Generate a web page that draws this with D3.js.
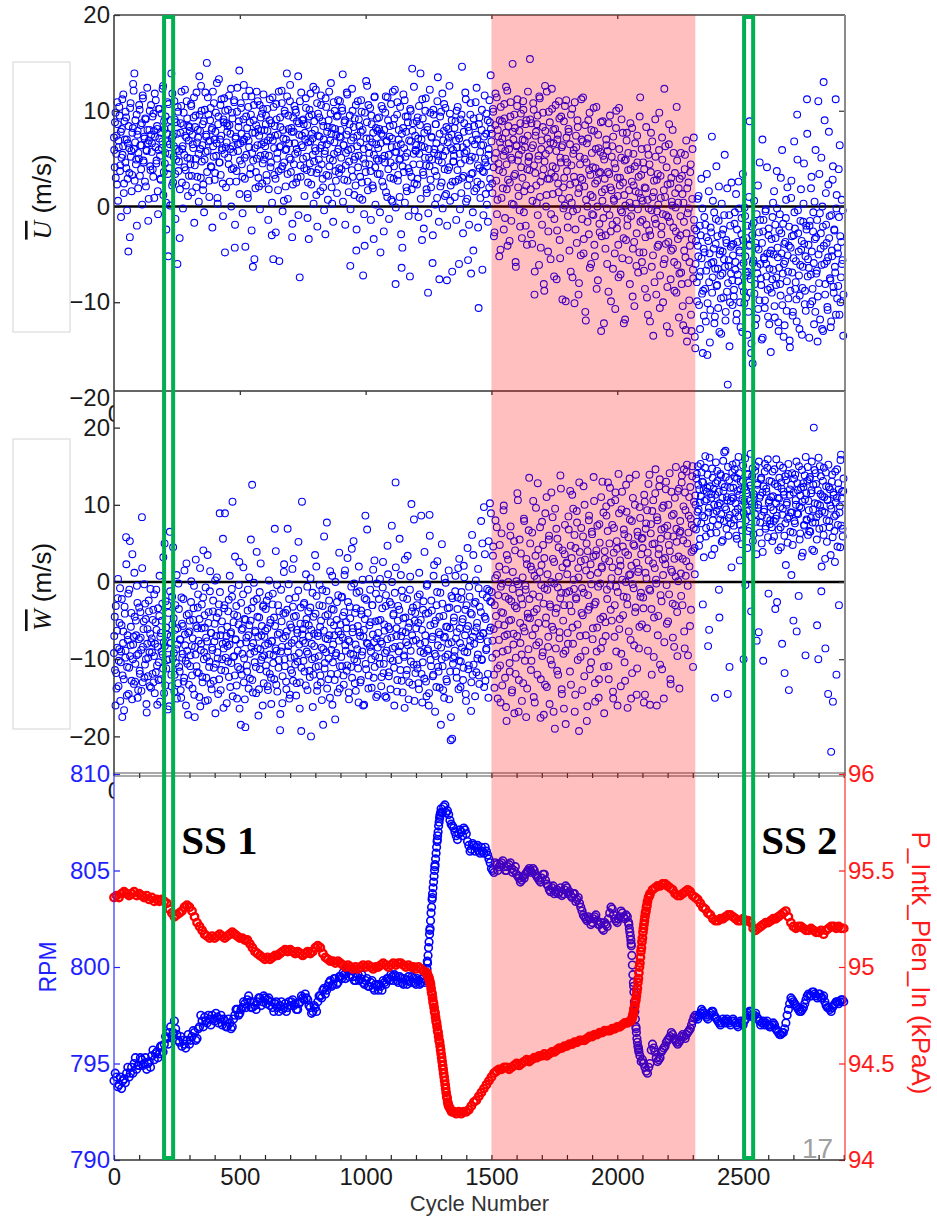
<!DOCTYPE html>
<html>
<head>
<meta charset="utf-8">
<script src="https://cdn.jsdelivr.net/npm/d3@7"></script>
<style>
  body { margin: 0; background: #fff; }
  svg { display: block; font-family: "Liberation Sans", Arial, sans-serif; }
</style>
</head>
<body>
<div id="chart"></div>
<script>
// ---- data ----
const tickCycles = [0, 500, 1000, 1500, 2000, 2500];
const uTicks = [-20, -10, 0, 10, 20];
const wTicks = [-20, -10, 0, 10, 20];
const rpmTicks = [790, 795, 800, 805, 810];
const presTicks = [94, 94.5, 95, 95.5, 96];
const transient = [1500, 2310];
const steadyStates = [
    { label: "SS 1", from: 199, to: 235 },
    { label: "SS 2", from: 2504, to: 2540 }
];

// scatter samples: set A on cycles 0,3,6..., set B on cycles 1,4,7...
const scatterCycles = d3.range(0, 2900, 3);
const scatterCyclesB = d3.range(1, 2900, 3);

const uValues = [
    7.2, 4.1, 9.8, 5.5, 2.3, 8.6, 6.9, 10.4, 3.7, 7.8, 5.1, 11.2, 6.3, 1.4, 8.9, 4.6, 9.3, 7.0, 2.9, -4.7,
    6.1, -3.2, 10.8, 5.8, 3.3, 8.2, 12.1, 13.9, 6.7, 4.4, 9.6, 7.5, 1.9, 5.0, 10.1, 6.4, 3.9, 8.7, 11.6, 4.8,
    7.3, 2.6, 9.1, 5.9, 12.4, 6.6, 0.8, 8.0, 4.2, 10.6,
    5.7, 9.4, 3.1, 7.9, 11.8, 6.2, 4.5, 8.4, 1.6, 10.2, 7.1, 5.3, 2.8, 9.7, 6.8, 12.6, 3.6, 8.1, 5.6, 0.4,
    7.6, 10.9, -5.2, 4.0, 6.5, 9.0, 13.9, 2.2, 7.4, 5.2, 11.0, 3.4, 8.8, 6.0, -6.0, 9.9, 4.7, -3.3, 7.7, 10.5,
    2.5, 6.3, 8.5, 5.4, 12.2, 3.8, 7.2, 9.2, 1.1, 6.9,
    8.3, 5.0, 10.7, 3.2, 7.5, 6.1, 11.4, 4.3, 9.5, 2.0, 6.7, 8.0, 5.5, 13.6, 7.9, 3.0, 10.0, 6.4, 1.7, 8.9,
    4.9, 11.9, 7.3, 15.0, 5.8, 9.6, 2.7, 6.9, 10.3, 4.1, 8.2, 12.0, 5.2, 7.0, 3.5, 9.8, 6.6, 0.9, 8.6, 13.3,
    4.6, 10.6, 7.4, 5.9, 2.4, 9.1, 11.3, -4.8, 6.2, 8.7,
    7.8, 10.1, 4.4, 8.5, 6.0, 12.3, 3.9, 9.2, 5.7, 11.1, -4.3, 7.1, 2.6, 9.9, 6.5, 8.3, 14.2, 4.8, 10.8, 7.6,
    3.1, 6.8, 12.7, 5.1, -4.2, 9.4, 7.3, 1.3, 10.4, 6.2, 8.8, 4.0, 11.5, 5.6, -6.3, 9.0, -5.5, 7.7, 3.6, 12.0,
    6.4, 8.1, 2.1, 10.6, 5.3, 7.9, 9.7, 4.5, 11.7, 6.7,
    5.4, 8.6, 3.3, 10.2, 6.9, 1.8, 9.0, 7.2, 4.6, -3.0, 11.4, -5.5, 6.1, 8.4, 2.9, 10.7, 5.0, 7.5, 3.7, -5.7,
    9.3, 6.3, 12.1, 4.2, 8.0, 0.6, 10.0, 5.9, 7.0, 13.9, 3.4, 9.5, 6.6, 11.0, 4.9, 8.2, -3.2, 2.3, 7.8, 10.5,
    5.5, 9.8, 6.0, 3.0, 13.6, 8.7, -7.4, 4.3, 11.9, 7.4,
    6.2, 9.1, 4.0, 7.7, 11.3, 5.2, 8.5, 2.5, -3.4, 10.1, 6.8, 3.6, 9.6, 7.1, 12.5, 4.7, 8.0, 5.8, 1.2, 10.8,
    7.4, 3.9, 9.3, 6.1, 11.6, 4.4, 8.9, 2.0, 7.0, 5.5, -2.9, 10.4, 6.5, 8.3, 3.2, 12.0, 5.0, 9.7, 7.6, 0.3,
    4.8, 10.9, 6.7, 8.1, 2.7, 9.4, 5.7, 11.1, 3.5, 7.3,
    8.0, 5.1, 10.3, 13.8, 6.4, 2.8, 9.0, 4.3, 7.5, 11.7, 5.9, 1.5, 8.6, -6.2, 6.9, 3.8, 10.0, 7.2, 4.9, 9.2,
    2.2, -4.6, 6.3, 11.0, 5.3, 8.4, 3.1, 7.8, 9.9, 0.7, -7.2, 6.0, -4.1, 4.5, 13.1, 8.8, 2.6, 10.6, 5.6, 7.1,
    3.7, 9.5, 6.7, 1.9, -3.4, 11.4, 4.1, 8.2, 5.0, 7.9,
    6.1, 9.3, 3.4, -4.8, 7.6, 5.0, 10.2, 2.1, 8.0, 4.6, 11.5, 6.8, 1.0, 9.0, 5.4, 7.3, 3.0, 10.7, 6.2, 0.5,
    8.5, 4.2, 12.2, -8.1, 5.7, 9.6, 2.7, 7.0, 4.9, 10.4, 6.5, -6.4, -4.3, 8.2, 3.6, 11.1, 5.2, 7.8, 1.6, 9.4,
    4.0, 6.9, -7.3, 10.0, 3.1, 14.4, 8.7, 5.5, 2.4, 7.4,
    5.8, 8.9, 2.9, 7.1, 10.5, 4.4, 13.9, 6.3, -3.5, 9.2, 3.3, 7.7, 5.1, 11.3, 1.8, 8.3, -9.0, 6.0, 4.2, 9.8,
    2.0, 7.2, -5.9, 10.1, 5.6, 3.7, 8.6, 6.6, 0.9, 13.5, 4.8, -7.6, 9.4, 6.1, 2.5, 11.8, 5.3, 7.9, 3.9, 10.3,
    1.3, -7.7, 6.7, 8.1, 4.1, 9.7, 2.2, 7.5, -6.8, 5.9,
    4.7, 8.2, 2.6, 6.9, 10.0, 3.8, 7.4, -6.0, 5.5, 9.1, 1.4, 14.6, 6.2, 3.2, 8.7, 4.9, 11.2, 5.8, 0.8, -5.6,
    7.9, 2.9, 9.6, -7.0, 5.2, 3.5, -4.6, 8.4, 6.5, 10.9, 1.9, 7.0, 4.3, -10.6, 9.3, 5.7, 2.3, 8.0, -6.6, 6.4,
    3.6, 11.6, 4.6, 7.6, 0.2, 9.0, 5.4, 2.0, 8.8, 13.7,
    6.8, 2.4, 10.2, 4.1, -2.7, 8.5, 5.6, 11.4, 0.7, 7.3, 3.8, 9.0, -4.5, 6.1, 8.9, 1.9, 5.3, 10.7, -1.2, 7.7,
    4.4, 12.1, 2.8, 6.6, -3.6, 9.4, 5.1, 0.3, 14.9, 7.0, 3.2, 8.2, -5.8, 6.3, 10.5, 4.8, 1.1, 7.9, -2.1, 9.7,
    5.9, 3.0, 11.0, -0.6, 6.9, 8.6, 2.2, -4.0, 7.4, 4.7,
    5.2, 15.4, 1.8, 8.7, -3.9, 6.4, 10.1, -9.2, 3.5, 7.8, 0.4, 9.5, 4.9, -6.1, 11.3, 2.6, 6.0, -1.9, 8.3, 3.9,
    -8.8, 12.6, 5.5, 1.2, 7.1, -4.7, 9.9, 2.9, 6.7, -0.8, 12.3, 4.2, 8.0, -7.3, 3.1, 10.6, 5.8, -2.5, 7.5, 1.5,
    9.2, -5.4, 4.6, 6.2, -9.7, 2.0, 8.9, 0.1, 5.0, 11.1,
    3.7, -2.2, 8.1, 0.9, 6.5, -6.8, 4.3, 10.2, -0.5, 5.9, -10.1, 2.5, 7.4, -3.8, 9.0, 1.4, -8.0, 5.2, 3.0, 11.2,
    -1.3, 6.8, -4.9, 2.1, 8.5, -11.9, 4.6, 0.0, 7.1, -2.9, 9.8, 3.3, -6.0, 5.6, 1.0, -0.9, 7.9, -5.2, 4.0, 10.4,
    2.7, -7.7, 6.1, -1.8, 3.6, 8.8, -3.1, 0.6, 5.3, -12.2,
    2.9, -4.4, 7.0, -0.2, 5.8, -8.9, 3.4, 9.5, -2.6, 1.7, 6.3, -6.5, 0.8, 4.5, -10.7, 8.2, -1.5, 3.0, -4.0, 10.3,
    2.2, -7.1, 5.1, -0.6, 7.7, -3.3, 1.2, -11.8, 4.9, 6.9, -2.0, 3.8, -5.6, 0.4, 8.7, -1.0, 2.6, -9.4, 5.5, -3.7,
    4.2, 1.6, -6.2, 7.4, -0.3, 3.1, -4.8, 11.4, 0.9, 6.0,
    -1.4, 4.6, -6.7, 2.0, -3.2, 8.3, -9.5, 0.7, 5.4, -2.5, -12.0, 3.6, -0.4, 6.8, -5.1, 1.5, -7.9, 9.1, -1.8, 2.8,
    -4.2, 0.2, 5.9, -10.6, 3.2, -2.9, 7.2, -0.8, -6.0, 12.3, 1.0, -3.9, 4.1, -8.4, -1.1, 6.5, -13.2, 2.4, -4.6, 0.5,
    8.0, -2.2, -5.8, 3.5, -0.1, -9.0, 4.8, -3.4, 1.9, -7.0,
    -3.0, 5.6, -8.1, 1.3, -12.4, -1.6, 3.9, -5.3, 6.9, -14.1, -0.7, 2.5, -9.8, -4.1, 4.4, -13.0, 0.8, -6.6, 7.2, -2.3,
    -14.8, -3.6, -7.9, 0.8, -5.2, -10.3, -2.0, -6.8, 2.9, -9.1, -15.3, -4.4, -1.1, -8.6, -12.0, -3.2, -15.5, -6.1, 1.6, -4.9,
    -10.8, -2.7, 7.3, -7.4, -5.8, -0.6, -11.5, -3.9, 4.2, -8.2, -6.5, -1.5, -13.1, -4.6, -9.6, 0.3, -7.0, -2.4, -5.5, 5.4,
    -11.9, -3.5, -8.9, -18.6, -6.2, -0.9, -10.0, -4.2, 2.5, -7.7,
    -5.1, -9.4, -1.8, -6.6, 1.3, -11.2, -3.7, -7.8, -0.2, -4.8, -12.6, -2.9, -8.3, 3.4, -5.9, -10.1, -1.0, -6.9, -3.3, -13.4,
    -7.2, -4.1, 8.9, -9.0, -15.3, -2.1, -16.4, -5.6, 0.6, -8.1, -3.8, -11.7, -6.3, 2.2, -4.5, -9.8, -1.4, -7.5, -13.9, 7.0,
    -2.6, -5.3, -10.6, -0.5, -6.0, 4.1, -8.7, -3.0, -12.3, -4.9,
    -15.2, -3.4, -7.6, 0.4, -5.0, -10.4, -1.9, -8.2, 3.7, -4.3, -12.1, -6.4, -0.8, -9.3, -2.8, 5.9, -7.0, -13.6, -3.9, -5.7,
    -1.2, -10.9, 2.0, -6.8, -4.1, -14.0, -8.8, 0.9, -3.1, -11.4, -5.4, 6.8, -2.3, -7.9, -9.7, 9.6, -0.4, -4.7, -12.8, -6.1,
    1.8, -3.6, -8.5, -1.6, 4.5, -10.2, -5.2, -2.0, 11.2, -7.3,
    -4.0, -13.7, -1.5, -7.1, 3.1, -9.9, -2.6, -5.9, 0.5, -11.0, -3.2, -6.7, -14.1, 11.0, -8.0, -0.7, -4.4, 5.1, -12.8, -2.1,
    13.0, -6.0, -9.2, 1.4, -3.8, -10.5, -5.3, 7.8, -1.0, -7.7, -12.0, -4.6, 2.8, -8.4, -2.4, -6.3, 11.2, -0.2, -9.6, -4.9,
    3.9, -11.3, -3.1, -7.4, 0.7, -5.6, -13.5
];

const uValuesB = [
    5.9, 8.8, 3.0, 7.4, 10.9, 0.6, 6.2, 9.5, 4.3, -1.1, 8.1, 5.4, 11.7, 2.4, 7.0, 9.9, 4.0, -0.4, 6.6, 8.4,
    3.5, 10.3, 5.2, 1.6, 7.7, 12.8, 6.0, 2.7, 9.0, 4.9, -2.0, 7.9, 5.6, 10.6, 3.2, 8.5, 6.4, 0.2, 11.3, 4.6,
    7.1, 9.2, 2.1, 5.8, 8.0, -1.5, 6.9, 10.0, 3.8, 7.5,
    6.6, 3.9, 9.7, 0.9, 7.3, 11.1, 4.8, 8.1, -0.8, 5.9, 10.2, 2.9, 7.7, 6.1, 12.3, 1.2, 8.9, 4.5, 9.4, -2.4,
    6.8, 3.4, 10.7, 5.5, 0.1, 8.2, 7.1, 11.8, 2.5, 6.3, 9.1, -1.3, 4.9, 7.6, 10.4, 3.7, 5.8, 1.8, 8.7, 12.0,
    6.0, -0.2, 9.8, 4.1, 7.4, 2.2, 11.0, 5.1, 8.4, 3.2,
    7.9, 4.4, 10.5, 1.5, 6.5, 9.3, -1.7, 8.3, 5.0, 11.9, 3.1, 7.2, 0.5, 9.6, 6.0, 12.6, 4.7, 8.6, 2.3, -0.6,
    10.1, 5.7, 7.5, 3.6, 11.4, 6.8, 1.0, 9.0, 4.2, 8.0, -2.2, 6.3, 10.8, 2.8, 7.8, 5.3, 12.9, 0.3, 9.4, 4.6,
    7.0, 3.3, 11.2, 6.1, -1.0, 8.8, 5.5, 10.0, 2.0, 6.7,
    8.4, 5.1, 11.6, 2.6, 7.6, 0.0, 9.8, 6.3, 4.0, 10.9, -1.9, 7.3, 3.7, 12.4, 5.8, 8.9, 1.3, 6.6, 10.3, 4.4,
    -0.7, 9.1, 7.0, 2.9, 11.5, 5.4, 8.2, 0.9, 6.9, 12.1, 3.4, 9.6, -2.5, 7.7, 4.8, 10.6, 6.1, 1.9, 8.5, 5.0,
    11.0, 3.0, 7.4, -0.3, 9.3, 6.5, 2.4, 10.2, 4.9, 8.0,
    6.3, 9.5, 2.7, 7.9, -1.4, 5.3, 11.2, 4.1, 8.7, 0.4, 6.9, 10.4, 3.3, 7.4, -2.7, 9.1, 5.6, 1.7, 12.0, 6.2,
    8.3, 3.9, 10.8, -0.5, 7.1, 4.6, 9.7, 2.1, 6.0, 11.5, 0.8, 8.1, 5.1, 12.7, 3.6, 7.8, -1.8, 9.3, 4.4, 6.6,
    10.1, 2.5, 8.9, 5.7, -0.9, 7.5, 11.0, 3.1, 6.4, 9.0,
    5.0, 8.6, 1.1, 7.0, 10.3, 3.8, -1.2, 6.7, 9.4, 4.5, 11.8, 2.3, 7.6, 5.4, 0.3, 8.9, 6.1, 12.2, 3.5, -2.1,
    9.7, 4.9, 7.3, 1.6, 10.6, 6.4, 2.9, 8.4, -0.4, 5.8, 11.3, 3.3, 7.8, 0.7, 9.0, 4.2, 6.9, 12.9, 2.0, 8.2,
    -1.6, 5.5, 10.0, 3.7, 7.5, 1.4, 9.5, 6.0, 4.0, 11.0,
    7.2, 3.9, 10.0, 0.5, 6.4, 8.8, -1.9, 5.6, 11.9, 2.7, 7.9, 4.7, 9.5, -0.3, 6.0, 12.3, 3.1, 8.3, 1.2, 5.2,
    10.6, -2.4, 7.4, 4.1, 9.1, 0.9, 6.7, 11.1, 2.5, 8.0, 5.0, -0.8, 9.8, 3.6, 7.1, 12.6, 1.7, 6.2, 4.4, 10.3,
    -1.4, 8.6, 2.2, 7.7, 5.4, 11.5, 0.2, 6.5, 9.2, 3.4,
    4.8, 8.1, -0.6, 6.6, 10.5, 2.6, 7.4, -2.6, 5.3, 9.8, 1.5, 6.9, 11.4, 3.9, -1.3, 8.4, 4.6, 0.7, 7.1, 12.0,
    2.9, 9.2, 5.7, -0.1, 6.3, 10.9, 3.3, 8.0, 1.0, 5.0, -2.9, 7.6, 4.2, 11.7, 6.1, 0.4, 9.4, 2.0, 5.6, 8.8,
    -1.0, 3.6, 10.2, 6.8, 1.8, 7.9, 4.4, 12.5, -0.4, 5.9,
    6.4, 2.3, 9.3, -1.1, 5.5, 8.5, 0.8, 7.0, 11.2, 3.6, -2.3, 6.2, 10.0, 4.3, 1.4, 8.0, -0.7, 5.1, 12.2, 2.8,
    7.3, 4.9, -3.0, 9.6, 6.0, 0.2, 8.6, 3.2, 11.0, 5.3, -1.6, 7.6, 2.1, 9.9, 4.6, -0.2, 6.9, 10.7, 1.1, 5.8,
    8.3, -2.0, 3.8, 7.2, 12.6, 0.6, 6.1, 9.0, 2.6, 4.7,
    5.3, 1.0, 8.9, -1.4, 6.2, 10.4, 2.8, 7.1, -0.3, 4.5, 9.6, 3.0, -2.8, 7.8, 5.6, 11.9, 0.5, 6.6, 2.2, 8.3,
    -1.9, 4.8, 10.8, 3.4, 6.9, -0.6, 9.2, 1.6, 5.1, 7.5, 12.4, 2.6, -2.2, 8.6, 4.0, 0.9, 6.4, 10.1, 3.7, -0.9,
    7.3, 5.0, 1.3, 9.7, 4.2, -1.6, 6.0, 11.1, 2.9, 8.1,
    7.6, 1.4, 9.9, -3.1, 5.0, 11.8, 2.7, -0.8, 8.0, 4.5, -5.2, 6.7, 10.4, 0.9, 7.1, 3.6, -2.4, 9.2, 5.8, 12.5,
    1.8, -4.1, 8.4, 6.0, 2.5, 10.9, -1.5, 4.9, 7.8, 0.2, 9.6, 3.4, -6.3, 6.4, 11.2, 2.0, 5.4, -0.4, 8.7, 4.1,
    -3.3, 7.0, 10.1, 1.6, 6.2, -2.0, 9.0, 3.9, 12.0, 5.2,
    3.8, 9.1, -2.9, 6.1, 0.6, 10.8, 4.3, -6.8, 7.4, 2.2, 8.6, -0.9, 5.3, 11.5, 1.0, -4.3, 6.9, 3.2, 9.8, -8.1,
    4.7, 7.9, 0.0, 12.0, 2.9, -2.6, 5.9, 8.8, -5.5, 3.5, 10.2, 1.3, 6.6, -1.3, 8.1, 4.0, -7.6, 7.0, 2.4, 11.0,
    -3.5, 5.1, 9.4, 0.8, 6.4, -0.2, 3.0, 10.5, -9.9, 7.2,
    4.6, -1.0, 7.8, -4.6, 2.3, 9.6, 0.4, -7.4, 5.5, 3.1, 10.9, -2.4, 6.2, -0.3, 8.3, -9.2, 1.9, 4.4, -5.1, 7.0,
    2.8, 11.4, -3.4, 5.0, -11.0, 0.7, 6.6, -1.6, 9.0, 3.8, -6.4, 1.2, 8.0, -0.8, 4.1, 10.3, -4.0, 2.4, 6.0, -8.6,
    0.0, 7.5, 3.5, -2.7, 5.7, -13.0, 1.5, 8.9, -1.2, 4.9,
    1.8, -3.0, 6.4, -6.0, 3.6, 8.7, -0.9, 2.0, -9.9, 5.2, -1.9, 7.3, 0.6, -4.9, 4.0, 10.0, -2.3, 1.1, -7.4, 6.0,
    3.0, -0.4, 9.1, -5.4, 2.5, -12.2, 4.8, 0.1, -3.5, 7.7, -1.3, 5.6, 1.7, -8.1, 3.9, -0.1, 8.2, -4.4, 2.2, -10.4,
    6.6, 0.3, -2.8, 4.6, -6.9, 1.4, 9.4, -1.6, 3.3, -5.8,
    0.6, -4.8, 3.9, -8.6, 1.9, -1.9, 6.1, -11.3, -0.2, 4.4, -3.0, 7.7, -6.3, 1.0, -13.5, 2.7, -1.3, 5.2, -9.2, -0.5,
    3.4, -4.0, 9.8, -7.2, 0.9, -2.1, 4.9, -10.0, 1.7, -5.5, 6.3, -0.9, -12.5, 2.3, -3.7, 8.6, -1.6, -7.6, 3.0, 0.1,
    -4.4, 5.6, -8.8, 1.4, -2.6, 10.4, -6.1, 0.4, -11.6, 2.9,
    -1.0, -6.9, 3.2, -10.4, 0.4, -4.6, 5.4, -12.9, -2.8, 1.9, -8.0, -0.2, -5.8, 3.6, -11.3, -3.4, 6.0, -7.5, -1.4, -13.6,
    -6.0, -2.5, -9.9, -4.1, 1.1, -7.3, -12.8, -3.0, -5.4, -0.2, -8.8, -11.4, -4.8, -1.9, -6.7, 3.4, -10.1, -3.6, -7.9, -14.2,
    -2.2, -5.9, -9.0, 0.6, -4.4, -12.2, -6.5, -1.3, -8.3, -3.1, -10.6, 2.1, -5.0, -7.2, -13.3, -2.9, -4.7, -9.5, -0.9, -6.3,
    -11.0, -3.8, 1.9, -8.0, -5.6, -14.6, -2.0, -7.0, -4.0, -10.3,
    -3.9, -8.7, -0.6, -5.8, -11.9, -2.4, -7.1, 2.6, -4.6, -10.0, -6.2, -1.2, -13.1, -3.5, -8.9, -0.1, -5.2, -9.5, -2.0, -6.8,
    -11.0, 1.0, -4.0, -7.6, -14.3, -3.0, -5.9, -1.7, -9.1, -12.4, -4.3, -0.8, -7.0, -10.7, -2.7, 4.6, -6.0, -8.2, -3.8, -13.7,
    -1.4, -5.5, -9.8, -0.3, -7.3, -4.9, -11.5, -2.3, -6.5, -8.5,
    -4.6, -9.0, -1.1, -6.6, 1.6, -11.6, -3.3, -7.4, -0.2, -5.3, -13.0, -2.5, -8.1, 3.0, -4.9, -10.3, -1.8, -6.0, -12.4, -3.7,
    0.7, -7.8, -5.1, -9.6, -2.1, -14.7, -4.3, 2.7, -6.9, -11.0, -3.0, -0.6, -8.6, -5.7, -12.0, 4.9, -2.8, -7.2, -9.3, -1.5,
    -4.5, -13.4, -6.3, 0.3, -3.9, -8.8, -10.9, -2.4, 7.6, -5.5,
    -6.4, -2.0, -10.2, 1.9, -4.7, -8.6, -0.6, -12.3, -3.4, 5.9, -7.0, -1.4, -9.4, -5.0, 3.4, -11.8, -2.8, -6.1, 0.0, -13.0,
    -4.1, 9.0, -8.1, -1.9, -5.7, -10.8, 2.3, -3.3, -7.5, -12.6, -0.9, -5.2, 4.2, -9.0, -2.5, -6.9, -11.3, 1.2, -4.3, -8.3,
    -1.1, 6.4, -10.0, -3.7, -6.0, -0.4, -9.2
];

const wValues = [
    -9.2, -4.5, -16.0, -11.8, -6.3, -2.1, -13.5, -8.7, -0.8, -10.4, -5.6, -17.5, -7.9, -12.6, -3.2, -9.8, 5.8, -14.7, -6.9, -1.5,
    -11.1, 5.3, -8.2, -4.0, -15.2, -10.0, -7.1, 1.2, -12.9, -5.0, -9.5, -2.7, -14.0, -7.4, -11.5, -3.9, -8.8, 8.4, -13.0, -6.1,
    -0.3, -10.7, -4.8, -15.8, -8.0, -12.2, -2.4, -9.1, -6.7, -13.7,
    -7.3, -11.9, -3.6, -9.6, -14.4, -5.2, -1.0, -10.8, -8.4, -12.7, -4.4, -15.5, -6.6, -9.0, -2.8, -11.2, -7.8, 5.0, -13.4, -5.9,
    -10.1, -3.0, -8.6, -16.1, 6.5, -7.0, -12.0, -1.9, -9.9, -4.7, -14.2, -6.2, -10.5, 0.9, -8.1, -13.1, -3.5, -11.6, -7.5, -15.0,
    -5.4, -9.3, -2.2, -12.4, -6.8, -10.2, 2.4, -8.9, -17.2, -4.1,
    -6.4, -10.9, -2.6, -8.3, -13.8, -4.9, -0.5, -17.5, -9.4, -5.7, -11.7, -3.3, -7.6, -14.9, 1.8, -8.8, -6.0, -12.3, -2.0, -10.0,
    -4.3, -15.4, -7.2, -9.7, 3.5, -5.3, -11.0, -1.2, -13.2, -6.6, -8.5, -3.8, -12.8, -7.7, 0.2, -10.6, -4.6, -9.1, -14.5, -2.9,
    8.9, -6.9, -11.4, -5.1, -8.0, -16.3, -3.4, 8.9, -9.8, -7.0,
    -5.8, -10.3, -2.3, -8.1, -13.6, -6.5, -0.9, 10.4, -9.7, -4.2, -12.1, -7.4, -3.1, -15.1, -8.9, -5.5, 2.6, -11.3, -18.5, -6.2,
    -9.3, -1.6, -13.0, -4.8, -18.8, -7.8, -10.8, -3.7, -6.9, 0.6, -12.5, -5.0, -8.4, 12.6, -14.3, -2.5, -9.0, -6.3, -11.0, 3.9,
    -4.5, -7.1, -13.9, -1.3, -8.7, -10.1, -5.7, -16.0, -3.0, -9.5,
    -8.2, -3.5, -11.6, -6.0, -14.0, -1.8, -9.4, -5.3, -12.4, -7.7, -2.9, -10.5, -4.6, 6.9, -8.6, -13.3, -0.4, -6.8, -11.1, -3.8,
    -19.2, -9.0, -5.1, -15.7, -7.3, 1.3, -10.0, -4.0, -12.9, -6.4, 6.9, -8.3, -2.2, -14.6, -9.8, -5.9, -11.8, -3.2, 3.0, -7.5,
    -10.7, -4.4, -13.1, -6.6, -1.1, -9.2, -16.4, -5.4, -19.3, 10.4,
    -6.1, -10.2, -2.7, -7.9, -13.4, -4.8, -0.6, -9.3, -5.6, -11.5, -3.3, -20.0, -8.0, -1.4, -12.0, -6.7, -9.8, -4.1, 2.0, -14.1,
    -7.0, -10.9, -3.0, -5.8, -13.0, -8.5, -1.0, -18.5, -6.3, -11.2, -4.4, -9.1, 7.7, -7.4, -12.6, -2.4, -15.0, -5.2, -8.8, 0.8,
    -10.4, -3.6, -6.9, -17.8, -9.5, -4.9, -11.9, -1.7, -7.6, -13.8,
    -5.5, -9.7, -1.9, -7.2, -12.1, -3.9, 1.5, -8.9, -6.0, -10.8, -2.6, -14.3, -7.7, -4.7, -11.0, 4.3, -6.5, -9.4, -0.2, -13.1,
    -8.1, -3.4, -10.3, -5.7, -15.6, -1.2, -7.0, -12.7, -4.2, -9.0, -16.0, -6.2, -2.1, 8.6, -11.3, -7.9, -4.0, -13.8, 0.4, -8.4,
    -5.2, -10.0, -3.0, -6.8, -12.4, 2.8, -9.6, -1.5, -7.3, -14.6,
    -6.6, -2.2, -10.6, -4.9, -13.5, -8.0, -0.7, -11.8, -5.5, -9.2, -3.1, -15.0, -7.4, 1.0, -12.2, -6.1, -9.9, -2.9, 7.3, -8.6,
    -4.3, -11.1, -1.4, 12.9, -7.0, -14.2, -5.0, -10.1, -3.6, -8.3, 0.9, -12.8, -6.4, -2.0, -9.5, -16.3, -4.6, -7.8, -11.4, 3.4,
    -5.9, -13.0, -1.0, -8.9, 10.1, -6.9, -3.3, -10.7, -15.4, -4.0,
    -7.5, -3.0, -11.2, -5.3, -13.9, -1.6, -9.0, 8.6, -6.2, -10.4, -2.5, -12.5, -7.8, -4.1, -14.8, -0.3, -8.7, -16.0, 8.7, -5.6,
    -10.9, -3.7, -7.1, -12.0, 2.2, -9.3, -5.0, -13.6, -1.3, -8.2, -11.6, -4.5, -6.8, -18.5, -10.0, -2.8, -14.0, -7.2, 0.5, -9.7,
    -5.8, -12.9, -3.4, -8.0, -15.2, -6.0, -20.5, -1.8, -20.3, -10.6,
    -5.1, -9.6, -1.2, -7.3, -12.4, -3.5, 1.8, -10.2, -6.0, -13.6, -2.2, -8.5, -4.8, -11.1, 0.6, -6.9, -14.5, -3.0, -9.1, -5.7,
    -10.8, -1.9, -7.6, -16.7, -4.2, -12.0, 3.5, -8.0, -6.4, -2.6, -11.7, -5.3, -9.4, -0.8, -13.2, -7.0, -3.9, -10.0, 5.0, -6.6,
    9.7, -4.5, -12.8, -8.8, -2.0, -7.7, -15.0, -1.1, 10.2, -5.9,
    -2.6, -9.8, 3.4, -6.1, -13.7, 0.5, -4.4, 7.1, -11.2, -1.7, -7.5, 4.8, -15.6, -3.9, -0.2, -9.0, 9.3, -5.6, -12.4, 1.6,
    -18.0, -6.8, 2.9, -2.2, -10.5, 6.0, -4.9, -14.3, -0.9, -8.1, 5.3, -3.1, -11.9, 0.1, -7.0, 10.6, -16.8, -1.4, -5.3, 3.7,
    -9.4, -2.9, -13.1, 8.2, -6.4, -0.5, -17.5, 2.3, -4.1, -8.7,
    13.5, -4.7, 2.0, -10.2, 6.4, -1.6, -14.9, 0.8, -6.0, 9.6, -3.5, -12.0, 4.2, -7.8, 1.3, -17.6, -0.4, 7.8, -9.1, -2.8,
    3.1, -13.3, -5.4, 11.0, -1.0, -8.4, 5.5, -15.8, -3.2, 0.0, -10.7, 8.4, -6.2, 2.6, -19.0, -4.0, 6.9, -11.5, -0.7, 4.5,
    -7.3, -2.1, 12.1, -13.9, 1.9, -5.0, -16.4, 3.6, -8.9, -1.4,
    2.4, -6.6, 8.5, -1.2, -11.6, 4.7, -3.8, 11.3, -8.0, 0.3, 6.1, -14.6, -2.0, 9.2, -5.5, 1.8, -19.3, 3.9, -9.7, 7.0,
    -0.8, -4.3, 12.4, -12.2, 2.9, -6.9, 5.0, -16.1, -1.7, 8.0, -3.2, 0.9, -10.4, 6.5, -7.4, 3.3, 10.5, -13.1, -2.6, 4.1,
    -5.9, 1.2, -15.0, 7.5, -0.2, -8.6, 2.0, 13.0, -4.5, -11.0,
    4.0, -5.2, 9.8, -1.0, 6.6, -10.9, 2.7, 12.2, -3.6, 0.5, 7.4, -14.2, 3.8, -7.1, 10.6, -0.6, 5.3, -16.0, 1.4, 8.9,
    -4.8, 2.1, -9.3, 11.7, 4.6, -1.9, 6.2, -12.8, 0.0, 9.1, -2.9, 3.5, -6.4, 13.4, 1.0, -15.1, 7.9, -0.3, 4.9, -8.2,
    10.0, -3.3, 2.5, -11.2, 6.0, 1.7, -5.8, 8.3, -1.4, 5.6,
    5.7, -2.0, -15.6, 10.4, 1.2, 7.6, -6.0, 3.8, 12.7, -0.9, -15.9, 6.3, -3.5, 9.2, 2.4, -9.7, 5.0, 11.5, 0.3, -16.0,
    8.0, -4.4, 4.3, 13.3, -1.7, 6.8, -11.3, 2.9, 9.9, -7.8, 3.1, 12.0, -0.4, 7.3, -5.1, 4.8, 14.1, -12.6, 1.6, 8.6,
    -2.8, 5.9, -8.4, 10.9, 0.7, 6.9, -3.9, 11.8, 3.3, -13.8,
    7.9, 1.1, 12.9, -3.0, 5.4, 14.6, -8.6, 9.3, 2.7, 15.2, -0.5, 6.4, 11.0, -5.7, 8.2, 3.9, 13.7, -11.0, 7.0, 4.4,
    11.2, 6.8, 14.0, 9.1, 12.6, 4.7, 10.3, 15.3, 7.6, 13.0, -2.9, 11.9, 8.4, 14.8, 5.9, 10.7, 12.2, -8.3, 9.6, 16.1,
    7.2, 11.4, 3.5, 13.5, 8.9, 10.0, -15.0, 12.8, 6.4, 14.4, 9.9, 11.7, -4.6, 8.1, 13.8, 5.2, 10.9, 15.7, 7.9, 12.3,
    17.0, 9.4, 11.0, -14.5, 6.0, 13.2, 8.7, 10.5, 1.9, 14.2,
    10.8, 7.3, 13.6, 9.0, 15.4, 5.6, 11.8, 8.5, 14.1, 2.8, 12.0, 9.8, 6.7, 13.1, -10.0, 10.4, 16.0, 8.0, 11.5, 4.4,
    13.9, 9.3, 7.0, 12.5, -3.8, 10.1, 14.7, 6.2, 11.0, 8.8, 15.0, 3.6, 12.8, 9.6, -6.5, 10.9, 7.7, 13.3, 5.0, 11.6,
    -10.2, 9.1, 14.3, 6.9, 12.1, 8.3, 15.9, -1.5, 10.6, 7.5,
    9.7, 13.0, 5.3, 11.1, 7.9, 14.6, -3.5, 10.2, 8.6, 12.4, 4.1, 10.8, 15.1, 7.1, 12.9, -8.0, 9.5, 11.7, 6.0, 13.7,
    2.2, 10.0, 8.2, 14.0, -14.0, 11.3, 6.5, 12.6, 9.0, 4.8, -5.0, 13.4, 7.6, 10.6, 15.6, 8.9, 11.9, -1.8, 9.8, 6.3,
    12.2, 3.3, 10.4, 12.8, 7.4, 13.8, -9.5, 11.5, 8.0, 14.9,
    10.5, 6.6, 13.6, 8.3, 11.9, 4.2, 9.4, 20.0, 14.5, 7.7, 12.7, 5.5, 10.1, -10.0, 8.8, 15.0, 11.4, -1.2, 9.2, 13.1,
    6.1, 11.0, 3.0, 14.2, 8.0, 10.7, -14.5, 12.3, 7.1, 9.9, -22.0, 13.0, 5.8, 11.6, 8.5, 2.6, 10.3, -12.0, 14.6, 7.4,
    12.0, 9.0, 4.5, 16.5, 10.8, 6.9, 11.8
];

const wValuesB = [
    -7.0, -11.4, -3.1, -13.8, -8.5, 0.4, -10.2, -5.3, -15.4, -9.0, -2.2, -12.1, -6.4, -16.6, -4.1, -8.9, 2.3, -11.0, -7.5, -14.5,
    -1.0, -9.6, -5.8, -12.8, 3.6, -8.1, -13.2, -4.5, -10.6, -6.9, -0.5, -15.0, -9.3, -3.3, -11.9, -7.2, -14.1, 1.8, -8.4, -5.1,
    -12.4, -2.8, -10.0, -16.9, -6.1, -9.8, -3.8, -13.5, -0.9, -7.8,
    -9.1, -4.9, -13.0, -1.6, -8.0, -11.7, -6.2, -15.9, -3.4, -10.4, 0.8, -7.1, -12.6, -5.0, -9.4, 3.2, -14.4, -8.3, -2.5, -11.2,
    -6.8, -16.5, -4.0, -10.0, -1.2, -7.9, -13.5, -5.5, 4.5, -9.2, -12.0, -3.0, -8.7, -15.1, -6.0, -0.2, -11.0, -7.4, -14.0, -2.0,
    -9.8, -5.7, -12.9, 1.5, -8.2, -16.0, -4.3, -10.6, -6.6, -13.3,
    -5.0, -9.5, 0.1, -12.1, -7.3, -3.4, -14.6, -8.4, 2.9, -10.9, -6.0, -1.6, -11.8, -4.8, -16.1, -8.0, -2.9, -13.0, 4.1, -9.1,
    -5.9, -0.7, -12.4, -7.7, -15.3, -3.9, -10.3, 1.4, -6.6, -13.9, -8.8, -2.4, -11.1, -5.4, -17.0, -7.0, 0.6, -9.9, -4.0, -12.6,
    -1.3, -14.0, -6.2, -10.0, 5.6, -8.6, -3.0, -11.5, -7.8, -15.7,
    -8.3, -3.8, -12.3, 0.8, -6.7, -10.5, -1.9, -14.8, -5.2, -9.6, 3.3, -7.5, -13.4, -4.4, -11.0, -0.4, -16.4, -8.0, -2.7, -12.0,
    -6.0, 1.9, -9.9, -15.2, -4.9, -7.2, -11.6, -1.0, -13.8, -5.6, -9.3, 5.5, -3.4, -12.7, -7.9, -0.1, -10.4, -6.5, -14.4, -2.2,
    -8.6, -17.3, -4.6, -11.3, 2.4, -6.9, -9.7, -3.2, -13.1, -7.1,
    -6.3, -10.8, -2.4, -13.5, -8.0, 0.2, -11.9, -4.9, -15.8, -7.6, -1.5, -9.5, -12.6, -5.7, 4.0, -8.9, -14.2, -3.0, -10.1, -6.6,
    -17.1, -1.0, -8.4, -12.2, -4.1, 2.3, -10.9, -7.0, -13.9, -3.6, -9.0, -0.3, -15.1, -5.5, -11.4, -7.9, 1.7, -12.8, -4.5, -9.7,
    -2.0, -14.7, -6.2, -10.3, 5.2, -8.1, -13.0, -3.3, -11.1, -6.8,
    -7.6, -2.9, -11.6, -5.4, 1.0, -9.0, -14.0, -3.8, -7.0, -12.3, 0.5, -6.2, -10.0, -16.2, -4.5, -8.3, 3.5, -11.0, -1.8, -13.4,
    -6.6, -9.6, -0.4, -12.1, -5.0, -15.3, -3.1, -8.7, 5.9, -10.5, -7.3, -1.2, -13.8, -4.2, -9.9, -6.9, 1.4, -11.9, -3.5, -15.9,
    -8.1, -5.6, -12.7, 0.0, -9.2, -2.6, -14.3, -6.4, 3.8, -10.9,
    -6.8, -2.0, -10.9, -4.4, -13.3, 0.9, -8.2, -5.2, -11.5, 3.1, -7.5, -15.2, -3.2, -9.3, -0.6, -12.4, -6.0, 5.3, -10.0, -4.0,
    -14.1, -1.4, -8.7, -11.2, 2.0, -6.5, -13.0, -3.7, -9.5, 0.3, -7.1, -15.9, -4.8, -10.6, -2.3, 6.8, -8.0, -12.1, -5.6, -1.0,
    -9.0, -13.7, -3.0, 1.6, -7.8, -11.0, -5.1, -14.9, -0.2, -8.5,
    -5.0, -9.8, 0.4, -7.7, -12.3, -3.4, 2.6, -10.6, -6.3, -14.8, -1.7, -8.9, 4.7, -5.8, -11.7, -2.6, -13.9, -7.2, 0.0, -10.2,
    -4.1, -16.0, -8.4, 1.9, -6.0, -12.7, -3.1, -9.0, 5.6, -11.4, -7.0, -1.1, -14.3, -4.7, -9.7, 2.9, -6.5, -12.0, -2.2, -8.2,
    -15.2, -5.3, 0.7, -10.3, -3.8, -13.3, -7.6, 8.1, -5.0, -11.8,
    -6.0, -10.7, -1.9, -13.1, 1.2, -8.0, -4.9, -11.9, -15.6, -3.6, -9.2, 3.9, -6.9, -12.9, -0.5, -8.9, -4.0, -14.4, 6.0, -10.1,
    -2.4, -7.4, -12.2, 0.8, -5.4, -16.8, -9.6, -3.0, 2.7, -11.0, -6.5, -13.7, -1.4, -8.5, 4.9, -10.9, -4.4, -15.0, -7.1, -0.1,
    -12.6, -5.8, -9.4, 1.5, -3.3, -11.6, -17.5, -7.8, -2.1, -9.9,
    -4.6, -8.9, 0.8, -11.6, -6.5, -2.0, -13.9, 3.0, -7.9, -10.3, -1.3, -5.2, -12.7, 2.1, -9.0, -3.6, -15.4, -6.1, 4.4, -11.3,
    -0.6, -8.3, -4.0, -13.0, 6.1, -7.1, -10.7, -2.8, -14.8, 0.2, -5.9, -9.9, 1.7, -12.1, -3.2, -7.4, 7.9, -10.1, -1.6, -6.7,
    -13.6, 3.6, -4.8, -8.6, -0.9, -11.9, 5.3, -6.3, -2.5, 8.9,
    -1.3, -7.6, 4.6, -12.0, -3.0, 8.0, -9.3, 0.9, -15.1, -5.5, 2.0, -10.8, -0.6, 6.3, -13.4, -4.0, 9.9, -7.0, -1.9, -16.2,
    3.5, -8.8, 0.0, -5.0, -11.6, 7.2, -2.5, -14.0, 1.3, -6.7, -17.0, 4.1, -9.8, -3.4, 11.5, -0.3, -12.7, 5.5, -7.9, -2.1,
    -15.4, 0.6, -5.9, 7.9, -10.2, -1.0, 3.0, -13.8, -4.6, 6.7,
    -2.2, 5.0, -11.4, 1.6, -6.9, 10.5, -3.9, -15.6, 3.4, -8.2, 0.4, 12.8, -5.3, -1.9, 7.1, -12.6, 2.2, -9.6, 4.8, -17.2,
    -0.8, 8.9, -4.6, -13.6, 1.0, -7.1, 6.0, -2.9, -10.1, 11.6, -5.8, 3.0, -16.8, -0.2, 9.5, -8.6, -3.4, 5.6, -12.0, 0.7,
    -6.5, 13.8, -1.4, -14.5, 4.1, -9.3, -3.0, 7.4, -18.4, 2.5,
    1.0, -8.0, 6.8, -3.0, 11.8, -13.3, 3.1, -5.9, 9.5, -0.9, -16.8, 4.4, -2.2, 7.7, -10.1, 0.6, 12.9, -7.0, 2.7, -4.0,
    -14.0, 5.9, -1.4, 10.0, -8.9, 1.5, -18.0, 4.0, -3.6, 8.6, -11.3, 2.3, -0.3, 6.2, -6.0, 13.6, -2.9, -15.5, 3.5, -9.0,
    7.3, -0.6, -12.6, 5.1, -4.8, 11.0, 1.8, -7.7, 9.0, -17.0,
    3.0, -7.0, 8.6, -2.2, 12.9, -12.6, 5.0, -0.5, 10.3, -5.0, 1.9, -15.1, 7.0, -3.0, 11.6, -9.0, 4.3, -1.3, 14.0, -6.1,
    2.8, -13.5, 9.4, 0.3, -4.3, 6.8, -10.4, 3.9, 12.6, -2.0, -16.3, 5.8, 0.9, 8.1, -7.5, 2.1, -11.8, 10.9, -0.8, 4.7,
    -3.9, 13.9, -14.6, 6.5, 1.3, -8.6, 9.7, -1.9, 3.6, -5.5,
    4.4, -3.4, 11.3, -14.6, 6.9, 0.5, 9.3, -8.9, 2.8, 13.9, -1.1, 7.5, -12.0, 4.9, 10.6, -4.6, 1.8, 14.6, -0.2, 8.4,
    -6.9, 3.6, 12.4, -10.7, 5.6, -2.5, 9.6, 0.9, -15.1, 7.0, 2.3, 13.0, -5.4, 6.0, 10.0, -1.6, 4.0, -13.2, 11.7, 1.3,
    -7.2, 8.8, 3.0, -3.0, 14.9, 5.2, -9.6, 0.1, 12.1, 6.4,
    6.6, -1.8, 13.8, 3.0, 9.8, -6.4, 11.6, 0.8, 14.3, 5.0, -9.5, 8.6, 2.0, 12.3, -3.6, 7.4, 15.0, 4.1, 10.4, 1.0,
    10.0, 13.4, 7.8, 15.0, 9.4, 12.0, 5.6, 11.1, 14.2, 8.6, 12.9, 3.2, 10.5, 16.3, 7.0, 11.7, 13.9, 9.0, -6.2, 12.4,
    6.3, 10.9, 14.7, 8.0, 12.1, 4.3, 11.3, 15.5, 9.2, 13.1, 7.4, -1.0, 10.2, 14.0, 8.8, 12.7, 5.4, 11.8, 16.8, 9.7,
    13.6, 6.9, 10.6, 14.9, 8.3, -11.0, 12.2, 7.6, 11.0, 15.2,
    12.2, 8.1, 14.6, 10.2, 6.0, 13.4, 9.5, 16.2, 11.3, 7.4, 13.0, 4.9, 10.8, 15.1, 8.9, 12.3, -0.4, 11.9, 9.2, 14.0,
    6.6, 12.9, 10.5, 16.6, 8.4, 13.7, 5.3, 11.4, 9.9, 14.4, 7.8, -7.6, 12.6, 10.0, 15.6, 6.4, 11.2, 13.5, 8.6, 3.9,
    12.4, 9.4, 15.3, 7.2, 11.7, 14.8, 5.8, 10.3, 13.1, 8.0,
    11.0, 7.1, 14.3, 9.3, 5.9, 12.7, 8.2, 15.9, -2.6, 10.9, 6.8, 13.5, 9.7, 4.5, 12.1, 8.7, 14.8, 11.3, -11.8, 7.6,
    13.2, 10.3, 5.1, 15.3, 8.5, 12.0, 9.0, 0.9, 14.1, 6.4, 11.6, 7.9, 13.9, 10.0, -6.4, 12.8, 8.8, 15.0, 5.5, 11.2,
    9.6, 14.5, 3.8, 12.3, 7.3, 10.7, 16.2, 8.1, 13.1, 6.1,
    9.3, 13.3, 6.5, 11.5, 15.6, 7.7, 12.6, 4.0, 10.2, 14.1, 8.4, -5.6, 11.9, 16.1, 6.9, 9.9, 13.7, 2.0, 11.1, 7.0,
    14.8, 9.0, -8.6, 12.4, 5.2, 10.6, 15.2, 7.9, 12.0, 3.5, 9.5, 13.9, -15.5, 11.3, 6.6, 14.3, 8.7, 10.9, 4.6, 12.8,
    -3.0, 9.8, 15.8, 7.3, 11.7, 5.9, 13.4
];

// [cycle, RPM]
const rpmPoints = [
    [0,794.1],[10,794.3],[20,793.9],[30,793.7],[40,794.2],[50,794.5],[60,794.3],[70,794.8],[80,795.0],[90,794.7],
    [100,794.9],[110,795.2],[120,795.0],[130,794.7],[140,795.1],[150,795.4],[160,795.2],[170,795.6],[180,795.5],[190,795.9],
    [200,796.0],[210,796.3],[220,796.6],[230,796.4],[240,797.2],[250,796.5],[260,796.1],[270,795.9],[280,796.0],[290,796.2],
    [300,796.0],[310,796.4],[320,796.6],[330,796.3],[340,796.9],[350,797.2],[360,797.4],[370,797.1],[380,797.3],[390,797.5],
    [400,797.2],[410,797.4],[420,797.3],[430,797.0],[440,797.2],[450,796.9],[460,797.1],[470,796.9],[480,797.5],[490,797.8],
    [500,797.6],[510,797.9],[520,798.1],[530,798.3],[540,798.2],[550,797.9],[560,798.0],[570,798.2],[580,798.4],[590,798.2],
    [600,798.4],[610,798.3],[620,798.0],[630,797.9],[640,798.1],[650,797.9],[660,798.0],[670,797.8],[680,798.1],[690,797.9],
    [700,798.0],[710,798.3],[720,798.1],[730,797.8],[740,798.2],[750,798.4],[760,798.6],[770,798.3],[780,797.9],[790,797.7],
    [800,797.9],[810,798.2],[820,798.5],[830,798.8],[840,798.6],[850,799.0],[860,799.3],[870,799.1],[880,799.4],[890,799.2],
    [900,799.5],[910,799.7],[920,799.4],[930,799.8],[940,799.6],[950,799.5],[960,799.3],[970,799.6],[980,799.4],[990,799.2],
    [1000,799.3],[1010,799.0],[1020,799.2],[1030,798.9],[1040,799.1],[1050,798.8],[1060,799.0],[1070,799.3],[1080,799.1],[1090,799.4],
    [1100,799.6],[1110,799.3],[1120,799.5],[1130,799.2],[1140,799.4],[1150,799.1],[1160,799.3],[1170,799.5],[1180,799.2],[1190,799.4],
    [1200,799.1],[1210,799.3],[1220,799.2],[1230,799.4],[1240,799.3],
    [1242,799.6],[1244,799.9],[1246,800.2],[1248,800.6],[1250,801.0],[1252,801.3],[1254,801.7],[1256,802.0],[1258,802.4],[1260,802.8],
    [1262,803.1],[1264,803.5],[1266,803.8],[1268,804.1],[1270,804.4],[1272,804.7],[1274,805.0],[1276,805.3],[1278,805.6],[1280,805.9],
    [1282,806.2],[1284,806.5],[1286,806.8],[1288,807.0],[1290,807.3],[1292,807.5],[1294,807.7],[1296,807.9],[1298,808.0],[1300,808.2],
    [1310,808.3],[1320,808.0],[1330,807.9],[1340,807.4],[1350,807.2],[1360,806.8],[1370,806.9],[1380,807.0],[1390,807.2],[1400,806.9],
    [1410,806.3],[1420,806.1],[1430,806.3],[1440,806.2],[1450,806.0],[1460,806.2],[1470,805.9],[1480,806.0],[1490,805.6],[1500,805.1],
    [1510,804.9],[1520,805.3],[1530,805.2],[1540,805.4],[1550,805.2],[1560,805.0],[1570,805.3],[1580,805.1],[1590,805.0],[1600,804.8],
    [1610,804.6],[1620,804.5],[1630,804.6],[1640,804.9],[1650,805.1],[1660,804.9],[1670,805.0],[1680,804.7],[1690,804.5],[1700,804.6],
    [1710,804.8],[1720,804.3],[1730,804.0],[1740,804.1],[1750,803.8],[1760,804.0],[1770,803.9],[1780,803.7],[1790,804.0],[1800,804.1],
    [1810,803.9],[1820,803.6],[1830,803.8],[1840,803.5],[1850,803.3],[1860,802.9],[1870,802.6],[1880,802.4],[1890,802.5],[1900,802.3],
    [1910,802.6],[1920,802.4],[1930,802.2],[1940,802.0],[1950,802.3],[1960,802.1],[1970,802.8],[1980,803.0],[1990,802.5],[2000,802.3],
    [2010,802.6],[2020,802.8],[2030,802.5],[2040,802.6],
    [2046,802.2],[2048,802.0],[2050,801.8],[2052,801.6],[2054,801.4],[2056,801.1],[2058,800.6],[2060,800.1],[2062,799.6],[2064,799.2],
    [2066,798.7],[2068,798.2],[2070,797.7],[2072,797.3],[2074,796.9],[2076,796.6],[2078,796.3],[2080,796.1],[2082,795.9],[2084,795.8],
    [2086,795.6],
    [2090,795.4],[2100,795.2],[2110,794.8],[2120,794.5],[2130,795.0],[2140,796.0],[2150,795.6],[2160,795.1],[2170,795.3],[2180,795.7],
    [2190,795.9],[2200,796.2],[2210,796.4],[2220,796.5],[2230,796.2],[2240,796.0],[2250,796.2],[2260,796.5],[2270,796.3],[2280,796.6],
    [2290,796.8],[2300,797.2],[2310,797.5],[2320,797.3],[2330,797.6],[2340,797.7],[2350,797.5],[2360,797.3],[2370,797.6],[2380,797.7],
    [2390,797.4],[2400,797.2],[2410,797.0],[2420,797.3],[2430,797.1],[2440,797.2],[2450,797.0],[2460,797.3],[2470,797.1],[2480,796.9],
    [2490,797.2],[2500,797.0],[2510,797.3],[2520,797.6],[2530,797.7],[2540,797.4],[2550,797.6],[2560,797.3],[2570,797.0],[2580,797.2],
    [2590,797.1],[2600,797.0],[2610,796.9],[2620,797.1],[2630,796.8],[2640,796.6],[2650,796.5],[2660,796.6],[2670,797.1],[2680,797.8],
    [2690,798.4],[2700,798.2],[2710,798.0],[2720,797.8],[2730,797.7],[2740,797.9],[2750,798.3],[2760,798.6],[2770,798.5],[2780,798.7],
    [2790,798.5],[2800,798.6],[2810,798.4],[2820,798.5],[2830,798.0],[2840,797.9],[2850,797.7],[2860,798.0],[2870,798.2],[2880,798.1],
    [2890,798.3],[2900,798.2]
];

// extra RPM readings on cycles 5, 15, 25 ... (the band is several RPM samples thick)
const rpmMidCycles = d3.range(5, 2900, 10);
const rpmMidValues = [
    794.5, 793.8, 794.3, 794.1, 794.0, 794.8, 794.5, 794.5, 795.3, 794.9,
    795.3, 794.9, 795.3, 795.0, 794.8, 795.7, 795.5, 795.3, 795.9, 795.6,
    796.4, 796.0, 796.9, 796.6, 796.8, 796.2, 796.4, 796.2, 795.8, 796.5,
    796.2, 796.7, 796.2, 796.8, 797.5, 796.9, 797.2, 797.5, 797.0, 797.3,
    797.6, 797.1, 797.5, 797.3, 796.9, 797.3, 796.8, 797.3, 797.8, 797.5,
    797.8, 798.2, 797.9, 798.5, 797.9, 798.2, 797.8, 798.4, 798.0, 798.5,
    798.1, 798.4, 798.2, 797.7, 798.2, 797.7, 798.2, 797.9, 797.7, 798.2,
    798.2, 798.0, 797.8, 798.1, 798.5, 798.3, 798.4, 798.0, 797.6, 798.0,
    797.7, 798.5, 798.4, 798.9, 798.8, 799.2, 799.0, 799.4, 799.1, 799.5,
    799.4, 799.6, 799.9, 799.5, 799.8, 799.3, 799.5, 799.3, 799.6, 799.1,
    799.4, 799.0, 799.3, 798.8, 799.0, 799.1, 798.8, 799.2, 799.4, 799.3,
    799.5, 799.6, 799.3, 799.5, 799.2, 799.4, 799.1, 799.3, 799.5, 799.2,
    799.4, 799.1, 799.4, 799.2, 800.3, 801.9, 803.6, 805.2, 806.6, 807.8,
    808.0, 808.4, 808.1, 807.6, 807.3, 807.0, 806.6, 807.1, 806.8, 807.1,
    806.5, 806.0, 806.4, 806.0, 806.3, 805.9, 806.0, 806.2, 805.8, 805.4,
    805.0, 805.4, 805.0, 805.3, 805.5, 805.0, 805.2, 805.4, 804.9, 805.2,
    804.7, 804.4, 804.7, 804.8, 805.0, 805.0, 805.1, 804.8, 804.6, 804.4,
    804.8, 804.5, 804.2, 803.9, 804.2, 803.9, 803.8, 804.1, 803.8, 804.2,
    803.8, 803.7, 803.8, 803.4, 803.6, 803.1, 802.7, 802.5, 802.6, 802.2,
    802.5, 802.7, 802.2, 802.3, 801.9, 802.2, 802.5, 803.1, 802.7, 802.4,
    802.5, 802.9, 802.6, 802.7, 802.3, 801.2, 799.0, 796.8, 795.7, 795.1,
    795.0, 794.6, 794.8, 795.7, 795.8, 795.3, 795.2, 795.6, 795.8, 796.1,
    796.3, 796.6, 796.3, 796.1, 796.1, 796.4, 796.4, 796.5, 796.7, 797.0,
    797.4, 797.4, 797.5, 797.8, 797.6, 797.4, 797.5, 797.7, 797.5, 797.3,
    797.1, 797.1, 797.2, 797.3, 797.1, 797.2, 797.2, 797.0, 797.1, 797.1,
    797.2, 797.5, 797.7, 797.5, 797.5, 797.4, 797.2, 797.1, 797.0, 797.2,
    796.9, 797.0, 797.0, 796.7, 796.5, 796.6, 796.8, 797.5, 798.1, 798.3,
    798.1, 797.9, 797.7, 797.8, 798.1, 798.5, 798.5, 798.7, 798.6, 798.4,
    798.6, 798.4, 798.2, 797.9, 797.8, 797.9, 798.1, 798.2, 798.2, 798.3
];

// [cycle, intake plenum pressure kPaA]
const presPoints = [
    [0,95.36],[10,95.37],[20,95.36],[30,95.38],[40,95.39],[50,95.38],[60,95.37],[70,95.38],[80,95.39],[90,95.37],
    [100,95.38],[110,95.37],[120,95.36],[130,95.37],[140,95.35],[150,95.36],[160,95.34],[170,95.35],[180,95.34],[190,95.35],
    [200,95.34],[210,95.33],[220,95.30],[230,95.28],[240,95.26],[250,95.27],[260,95.28],[270,95.29],[280,95.31],[290,95.32],
    [300,95.31],[310,95.29],[320,95.26],[330,95.23],[340,95.21],[350,95.19],[360,95.17],[370,95.16],[380,95.15],[390,95.16],
    [400,95.15],[410,95.16],[420,95.17],[430,95.16],[440,95.15],[450,95.16],[460,95.17],[470,95.18],[480,95.17],[490,95.16],
    [500,95.15],[510,95.15],[520,95.14],[530,95.14],[540,95.12],[550,95.10],[560,95.08],[570,95.07],[580,95.06],[590,95.05],
    [600,95.04],[610,95.05],[620,95.04],[630,95.05],[640,95.06],[650,95.06],[660,95.07],[670,95.08],[680,95.09],[690,95.08],
    [700,95.09],[710,95.08],[720,95.07],[730,95.08],[740,95.07],[750,95.06],[760,95.07],[770,95.08],[780,95.07],[790,95.08],
    [800,95.10],[810,95.11],[820,95.10],[830,95.07],[840,95.05],[850,95.04],[860,95.03],[870,95.03],[880,95.02],[890,95.03],
    [900,95.02],[910,95.01],[920,95.00],[930,95.01],[940,95.00],[950,94.99],[960,95.00],[970,94.99],[980,95.00],[990,95.01],
    [1000,95.00],[1010,95.01],[1020,95.00],[1030,94.99],[1040,95.00],[1050,95.00],[1060,95.01],[1070,95.02],[1080,95.01],[1090,95.00],
    [1100,95.01],[1110,95.02],[1120,95.01],[1130,95.02],[1140,95.02],[1150,95.01],[1160,95.00],[1170,95.01],[1180,95.00],[1190,95.00],
    [1200,94.99],[1210,95.00],[1220,94.99],[1230,94.98],[1240,94.97],
    [1242,94.97],[1244,94.97],[1246,94.96],[1248,94.95],[1250,94.95],[1252,94.94],[1254,94.93],[1256,94.92],[1258,94.91],[1260,94.89],
    [1262,94.87],[1264,94.86],[1266,94.84],[1268,94.82],[1270,94.81],[1272,94.79],[1274,94.77],[1276,94.76],[1278,94.74],[1280,94.72],
    [1282,94.71],[1284,94.69],[1286,94.67],[1288,94.66],[1290,94.64],[1292,94.62],[1294,94.61],[1296,94.59],[1298,94.57],[1300,94.55],
    [1302,94.53],[1304,94.51],[1306,94.49],[1308,94.47],[1310,94.45],[1312,94.43],[1314,94.41],[1316,94.39],[1318,94.37],[1320,94.35],
    [1322,94.33],[1324,94.32],[1326,94.30],[1328,94.29],[1330,94.28],[1334,94.27],[1338,94.26],[1342,94.25],
    [1350,94.25],[1360,94.24],[1370,94.25],[1380,94.24],[1390,94.25],[1400,94.25],[1410,94.26],[1420,94.28],[1430,94.30],[1440,94.31],
    [1450,94.33],[1460,94.35],[1470,94.37],[1480,94.39],[1490,94.41],[1500,94.43],[1510,94.45],[1520,94.46],[1530,94.47],[1540,94.47],
    [1550,94.48],[1560,94.48],[1570,94.47],[1580,94.48],[1590,94.49],[1600,94.50],[1610,94.49],[1620,94.50],[1630,94.51],[1640,94.52],
    [1650,94.51],[1660,94.52],[1670,94.53],[1680,94.53],[1690,94.54],[1700,94.54],[1710,94.55],[1720,94.54],[1730,94.55],[1740,94.56],
    [1750,94.56],[1760,94.57],[1770,94.58],[1780,94.58],[1790,94.59],[1800,94.59],[1810,94.60],[1820,94.60],[1830,94.61],[1840,94.61],
    [1850,94.62],[1860,94.62],[1870,94.62],[1880,94.63],[1890,94.64],[1900,94.64],[1910,94.65],[1920,94.65],[1930,94.66],[1940,94.66],
    [1950,94.67],[1960,94.67],[1970,94.67],[1980,94.68],[1990,94.68],[2000,94.69],[2010,94.69],[2020,94.70],[2030,94.71],[2040,94.71],
    [2050,94.72],[2054,94.72],[2058,94.73],[2060,94.74],[2062,94.75],[2064,94.76],[2066,94.78],[2068,94.79],[2070,94.80],[2072,94.82],
    [2074,94.83],[2076,94.85],[2078,94.87],[2080,94.89],[2082,94.92],[2084,94.94],[2086,94.97],[2088,95.00],[2090,95.02],[2092,95.05],
    [2094,95.08],[2096,95.10],[2098,95.13],[2100,95.15],[2102,95.18],[2104,95.20],[2106,95.22],[2108,95.24],[2110,95.26],[2112,95.28],
    [2114,95.29],[2116,95.31],[2118,95.32],[2120,95.34],[2124,95.36],[2128,95.37],
    [2130,95.38],[2140,95.40],[2150,95.41],[2160,95.42],[2170,95.42],[2180,95.43],[2190,95.43],[2200,95.42],[2210,95.41],[2220,95.40],
    [2230,95.38],[2240,95.37],[2250,95.37],[2260,95.38],[2270,95.39],[2280,95.40],[2290,95.39],[2300,95.37],[2310,95.36],[2320,95.35],
    [2330,95.33],[2340,95.31],[2350,95.30],[2360,95.28],[2370,95.27],[2380,95.25],[2390,95.24],[2400,95.24],[2410,95.25],[2420,95.25],
    [2430,95.26],[2440,95.27],[2450,95.27],[2460,95.26],[2470,95.25],[2480,95.24],[2490,95.24],[2500,95.25],[2510,95.24],[2520,95.24],
    [2530,95.23],[2540,95.20],[2550,95.19],[2560,95.20],[2570,95.21],[2580,95.22],[2590,95.23],[2600,95.23],[2610,95.24],[2620,95.25],
    [2630,95.25],[2640,95.26],[2650,95.27],[2660,95.28],[2670,95.29],[2680,95.26],[2690,95.23],[2700,95.21],[2710,95.20],[2720,95.21],
    [2730,95.21],[2740,95.20],[2750,95.19],[2760,95.19],[2770,95.20],[2780,95.19],[2790,95.18],[2800,95.18],[2810,95.19],[2820,95.17],
    [2830,95.19],[2840,95.20],[2850,95.21],[2860,95.21],[2870,95.20],[2880,95.21],[2890,95.20],[2900,95.20]
];

// ---- layout ----
const width = 937, height = 1218;
const left = 114, right = 845;
const p1 = { top: 15, bottom: 398, frameBottom: 391 };
const p2 = { top: 391, bottom: 776 };
const p3 = { top: 773, bottom: 1160 };
const fmtInt = d3.format("d");

const svg = d3.select("#chart").append("svg")
    .attr("width", width)
    .attr("height", height);

const x = d3.scaleLinear().domain([0, 2905]).range([left, right]);
const yU = d3.scaleLinear().domain([-20, 20]).range([p1.bottom, p1.top]);
const yW = d3.scaleLinear().domain([-25, 25]).range([p2.bottom - 1, 389]);
const yRpm = d3.scaleLinear().domain([790, 810]).range([p3.bottom, p3.top + 1]);
const yP = d3.scaleLinear().domain([94, 96]).range([p3.bottom, p3.top + 1]);

function styleAxis(g, color, size) {
    g.select(".domain").remove();
    g.selectAll("line").attr("stroke", color).attr("stroke-width", 1.2);
    g.selectAll("text")
        .attr("fill", color)
        .style("font-family", "'Liberation Sans', Arial, sans-serif")
        .style("font-size", size + "px");
}

function drawRings(g, values, cycles, y) {
    g.append("g").selectAll("circle")
        .data(values.slice(0, cycles.length))
        .join("circle")
        .attr("cx", (d, i) => x(cycles[i]))
        .attr("cy", d => y(d))
        .attr("r", 3.4)
        .attr("fill", "none")
        .attr("stroke", "#0000ff")
        .attr("stroke-width", 1.1);
}

// scatter panel (U or W)
function scatterPanel(valuesA, valuesB, y, ticks, top, bottom, withBg) {
    const g = svg.append("g");
    if (withBg) {
        g.append("rect")
            .attr("x", left).attr("y", top)
            .attr("width", right - left).attr("height", bottom - top)
            .attr("fill", "#fff");
    }

    // cycle labels under the panel (the next panel hides most of them)
    g.append("g")
        .attr("transform", `translate(0,${y.range()[0]})`)
        .call(d3.axisBottom(x).tickValues(tickCycles).tickSize(0).tickPadding(7).tickFormat(fmtInt))
        .call(a => styleAxis(a, "#1a1a1a", 24));

    g.append("line")
        .attr("x1", left).attr("x2", right)
        .attr("y1", y(0)).attr("y2", y(0))
        .attr("stroke", "#000").attr("stroke-width", 2.5);

    drawRings(g, valuesA, scatterCycles, y);
    drawRings(g, valuesB, scatterCyclesB, y);

    g.append("g")
        .attr("transform", `translate(${left},0)`)
        .call(d3.axisLeft(y).tickValues(ticks).tickSize(-6).tickPadding(4).tickFormat(fmtInt))
        .call(a => styleAxis(a, "#1a1a1a", 24));

    g.append("g")
        .attr("transform", `translate(${right},0)`)
        .call(d3.axisRight(y).tickValues([-10, 0, 10]).tickSize(-6).tickFormat(""))
        .call(a => styleAxis(a, "#333", 24));

    g.append("g")
        .attr("transform", `translate(0,${top})`)
        .call(d3.axisTop(x).tickValues(tickCycles.slice(1)).tickSize(-4).tickFormat(""))
        .call(a => styleAxis(a, "#222", 24));
    return g;
}

scatterPanel(uValues, uValuesB, yU, uTicks, p1.top, p1.bottom, false);
scatterPanel(wValues, wValuesB, yW, wTicks, p2.top, p2.bottom, true);

// ---- panel 3: RPM and intake pressure ----
const g3 = svg.append("g");
g3.append("rect")
    .attr("x", left).attr("y", p3.top)
    .attr("width", right - left).attr("height", p3.bottom - p3.top)
    .attr("fill", "#fff");

const rpmAll = rpmPoints.concat(rpmMidCycles.map((c, i) => [c, rpmMidValues[i]]))
    .filter(d => d[1] !== undefined);
g3.append("g").selectAll("circle")
    .data(rpmAll)
    .join("circle")
    .attr("cx", d => x(d[0]))
    .attr("cy", d => yRpm(d[1]))
    .attr("r", 3.8)
    .attr("fill", "none")
    .attr("stroke", "#0000ff")
    .attr("stroke-width", 1.6);

g3.append("g").selectAll("circle")
    .data(presPoints)
    .join("circle")
    .attr("cx", d => x(d[0]))
    .attr("cy", d => yP(d[1]))
    .attr("r", 3.7)
    .attr("fill", "none")
    .attr("stroke", "#ff0000")
    .attr("stroke-width", 2.4);

// minor/major cycle ticks, bottom and top of panel 3
g3.append("g")
    .attr("transform", `translate(0,${p3.bottom})`)
    .call(d3.axisBottom(x).tickValues(d3.range(0, 2901, 100)).tickSize(-5).tickFormat(""))
    .call(a => styleAxis(a, "#222", 24));
g3.append("g")
    .attr("transform", `translate(0,${p3.bottom})`)
    .call(d3.axisBottom(x).tickValues(tickCycles).tickSize(0).tickPadding(8).tickFormat(fmtInt))
    .call(a => styleAxis(a, "#1a1a1a", 24));
g3.append("g")
    .attr("transform", `translate(0,${p3.top})`)
    .call(d3.axisTop(x).tickValues(d3.range(100, 2901, 100)).tickSize(-5).tickFormat(""))
    .call(a => styleAxis(a, "#222", 24));

g3.append("g")
    .attr("transform", `translate(${left},0)`)
    .call(d3.axisLeft(yRpm).tickValues(rpmTicks).tickSize(-6).tickPadding(4).tickFormat(fmtInt))
    .call(a => styleAxis(a, "#1f1fff", 24));
g3.append("g")
    .attr("transform", `translate(${right},0)`)
    .call(d3.axisRight(yP).tickValues(presTicks).tickSize(-6).tickPadding(3).tickFormat(d => String(d)))
    .call(a => styleAxis(a, "#ff1a1a", 24));

// ---- frames ----
const frames = svg.append("g").attr("fill", "none");
function seg(x1, y1, x2, y2, color, w) {
    frames.append("line")
        .attr("x1", x1).attr("y1", y1).attr("x2", x2).attr("y2", y2)
        .attr("stroke", color).attr("stroke-width", w);
}
seg(left, p1.top, right, p1.top, "#444", 1.5);
seg(left, p1.top, left, p1.frameBottom, "#333", 1.5);
seg(right, p1.top, right, p1.frameBottom, "#8a8a8a", 2);
seg(left, p2.top, right, p2.top, "#333", 1.5);
seg(left, p2.top, left, p2.bottom, "#333", 1.5);
seg(right, p2.top, right, p2.bottom, "#8a8a8a", 2);
seg(left, p2.bottom, right, p2.bottom, "#555", 1.2);
seg(left, p3.top, right, p3.top, "#555", 1.2);
seg(left, p3.top, left, p3.bottom, "#3030ff", 1.2);
seg(right, p3.top, right, p3.bottom, "#ff3030", 1.2);
seg(left, p3.bottom, right, p3.bottom, "#333", 1.5);

// ---- transient band (translucent red over everything) ----
svg.append("rect")
    .attr("x", x(transient[0]))
    .attr("y", p1.top)
    .attr("width", x(transient[1]) - x(transient[0]))
    .attr("height", p3.bottom - p1.top)
    .attr("fill", "#ff0000")
    .attr("fill-opacity", 0.25);

// ---- steady-state windows ----
steadyStates.forEach(s => {
    svg.append("rect")
        .attr("x", x(s.from)).attr("y", p1.top + 2)
        .attr("width", x(s.to) - x(s.from))
        .attr("height", p3.bottom - p1.top - 4)
        .attr("fill", "none")
        .attr("stroke", "#00b050")
        .attr("stroke-width", 4);
    svg.append("text")
        .attr("x", x(s.to) + 8).attr("y", 854)
        .style("font-family", "'Liberation Serif', 'Times New Roman', serif")
        .style("font-weight", "bold")
        .style("font-size", "41px")
        .attr("fill", "#000")
        .text(s.label);
});

// ---- axis titles ----
function boxedTitle(cy, boxTop, boxBottom, letter) {
    svg.append("rect")
        .attr("x", 13).attr("y", boxTop)
        .attr("width", 57).attr("height", boxBottom - boxTop)
        .attr("fill", "#fff")
        .attr("stroke", "#d4d4d4");
    const t = svg.append("text")
        .attr("transform", `translate(42,${cy}) rotate(-90)`)
        .attr("text-anchor", "middle")
        .attr("dominant-baseline", "central")
        .style("font-size", "26px")
        .attr("fill", "#111");
    t.append("tspan")
        .style("font-family", "'Liberation Serif', 'Times New Roman', serif")
        .style("font-style", "italic")
        .style("text-decoration", "overline")
        .text(letter);
    t.append("tspan").text(" (m/s)");
}
boxedTitle(197, 62, 332, "U");
boxedTitle(587, 439, 729, "W");

svg.append("text")
    .attr("transform", "translate(48,967) rotate(-90)")
    .attr("text-anchor", "middle")
    .attr("dominant-baseline", "central")
    .style("font-size", "23px")
    .attr("fill", "#1f1fff")
    .text("RPM");

svg.append("text")
    .attr("transform", "translate(921,963) rotate(90)")
    .attr("text-anchor", "middle")
    .attr("dominant-baseline", "central")
    .style("font-size", "26px")
    .attr("fill", "#ff1a1a")
    .text("P_Intk_Plen_In  (kPaA)");

svg.append("text")
    .attr("x", (left + right) / 2).attr("y", 1211)
    .attr("text-anchor", "middle")
    .style("font-size", "22px")
    .attr("fill", "#333")
    .text("Cycle Number");

svg.append("text")
    .attr("x", 802).attr("y", 1158)
    .style("font-size", "28px")
    .attr("fill", "#a0a0a0")
    .text("17");
</script>
</body>
</html>
